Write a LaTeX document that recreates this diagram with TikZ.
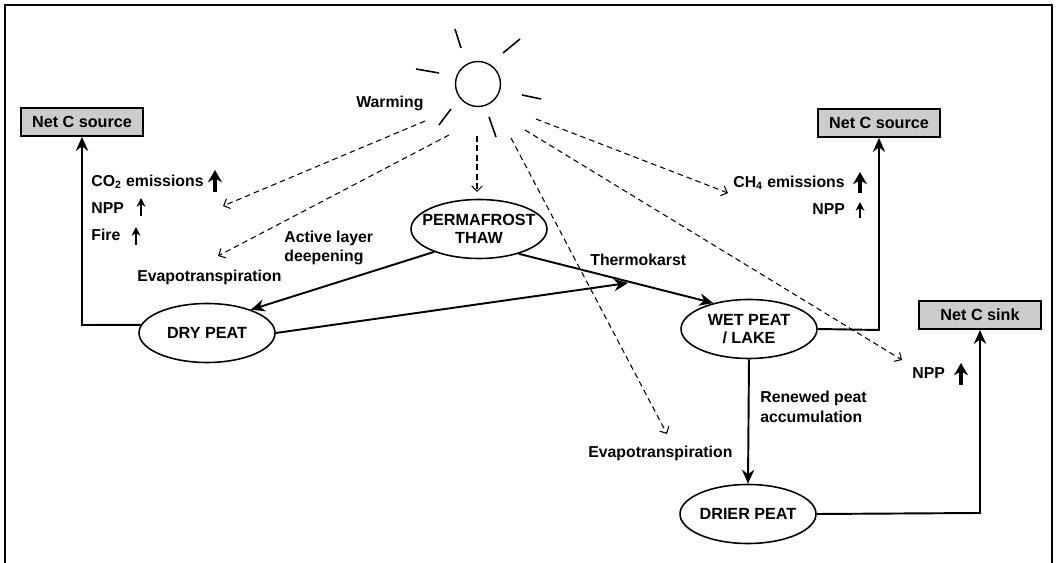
\documentclass[tikz,border=0pt]{standalone}
\usepackage{fontspec}
\setmainfont{Liberation Sans}
\usetikzlibrary{arrows.meta,shapes.geometric}
\begin{document}
\begin{tikzpicture}[
    x=0.02cm, y=-0.02cm,
    txt/.style={font=\fontsize{9}{11}\selectfont\bfseries, inner sep=0pt, align=left},
    state/.style={ellipse, draw, line width=0.9pt, inner xsep=-0.18cm, inner ysep=-0.1cm, minimum width=2.72cm, minimum height=1.18cm, align=center, font=\fontsize{9.2}{10.2}\selectfont\bfseries},
    result/.style={rectangle, draw, line width=1pt, fill=black!20, minimum width=2.44cm, minimum height=0.56cm, inner sep=0pt, font=\fontsize{9.2}{11}\selectfont\bfseries},
    flow/.style={line width=1.1pt, -{Stealth[length=8pt,width=7pt]}},
    effect/.style={line width=0.6pt, dash pattern=on 3.2pt off 2.2pt, -{Straight Barb[length=3pt,width=6pt]}},
    ray/.style={line width=0.9pt},
    bigup/.style={line width=1.8pt, -{Stealth[length=7pt,width=8pt]}},
    smallup/.style={line width=1pt, -{Stealth[length=5pt,width=5pt]}}
]
\useasboundingbox (0,0) rectangle (1062,563);

% Cadre
\draw[line width=1pt] (5,563) -- (5,5) -- (1052,5) -- (1052,563);

% Soleil
\node[circle, draw, line width=0.8pt, minimum size=0.9cm, inner sep=0pt] (sun) at (478,84) {};
\foreach \xa/\ya/\xb/\yb in {455/29/461/48, 503/53/520/39, 416/69/439/73, 522/95/541/99, 439/125/451/109, 489/117/496/137}
    \draw[ray] (\xa,\ya) -- (\xb,\yb);

% Etats
\node[state] (thaw) at (479,229) {PERMAFROST\\THAW};
\node[state] (dry) at (207,333) {DRY PEAT};
\node[state] (wet) at (749,329) {WET PEAT\\/ LAKE};
\node[state] (drier) at (748,514) {DRIER PEAT};

% Bilans
\node[result] (sourceL) at (82,122) {Net C source};
\node[result] (sourceR) at (879,123) {Net C source};
\node[result] (sink) at (980,315) {Net C sink};

% Textes
\node[txt, anchor=west] (warming) at (356,103) {Warming};
\node[txt, anchor=west] (co2) at (91,182) {CO\textsubscript{2} emissions};
\node[txt, anchor=west] (nppL) at (91,208) {NPP};
\node[txt, anchor=west] (fire) at (91,235) {Fire};
\node[txt, anchor=west] (evapL) at (137,277) {Evapotranspiration};
\node[txt, anchor=west] (active) at (284,248) {Active layer\\deepening};
\node[txt, anchor=west] (karst) at (590,260) {Thermokarst};
\node[txt, anchor=west] (ch4) at (733,183) {CH\textsubscript{4} emissions};
\node[txt, anchor=west] (nppR) at (812,209) {NPP};
\node[txt, anchor=west] (renewed) at (760,407) {Renewed peat\\accumulation};
\node[txt, anchor=west] (evapR) at (588,453) {Evapotranspiration};
\node[txt, anchor=west] (nppS) at (912,373) {NPP};

% Extremites libres
\coordinate (mid) at (628,283);
\coordinate (cornerL) at (82,325);
\coordinate (cornerR) at (879,330);
\coordinate (cornerS) at (980,513);

% Connexions
\draw[flow] (thaw.207) -- (dry.28);
\draw[flow] (thaw.-32) -- (wet.144);
\draw[flow] (dry.east) -- (mid);
\draw[flow] (dry.173) -- (cornerL) -- (sourceL.south);
\draw[flow] (wet.east) -- (cornerR) -- (sourceR.south);
\draw[flow] (wet.south) -- (drier.north);
\draw[flow] (drier.east) -- (cornerS) -- (sink.south);

% Effets du rechauffement
\foreach \xa/\ya/\xb/\yb in {425/121/223/206, 449/135/218/256, 477/136/477/192, 511/138/667/434, 536/119/728/193, 525/130/902/360}
    \draw[effect] (\xa,\ya) -- (\xb,\yb);

% Petites fleches
\foreach \xa/\ya/\yb in {215/192/170, 860/193/172, 961/385/363}
    \draw[bigup] (\xa,\ya) -- (\xa,\yb);
\foreach \xa/\ya/\yb in {141/216/198, 136/245/227, 860/218/202}
    \draw[smallup] (\xa,\ya) -- (\xa,\yb);

\end{tikzpicture}
\end{document}
